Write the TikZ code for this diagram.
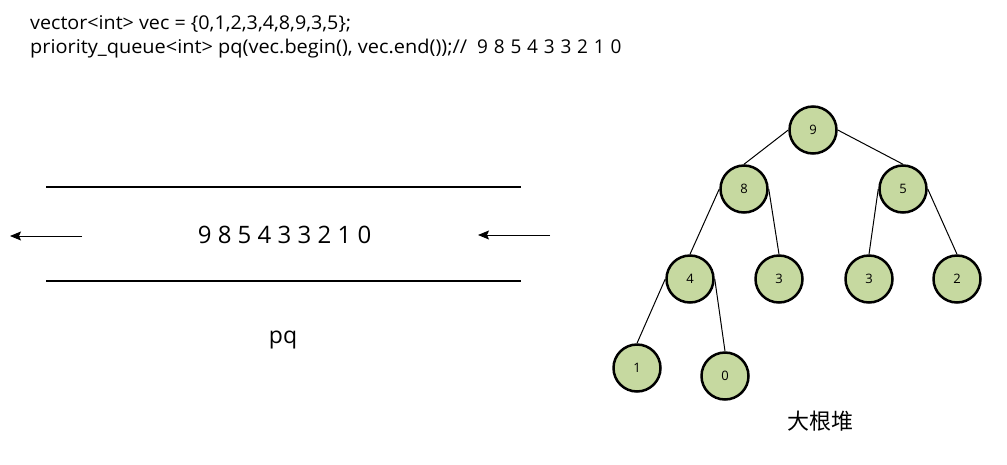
\documentclass[tikz,border=0pt]{standalone}
\usepackage{graphicx}
\usepackage{fontspec}
\setmainfont{Open Sans}
\newfontfamily\cjkfont{Noto Sans CJK SC}
\usetikzlibrary{arrows.meta}
\definecolor{heapgreen}{RGB}{198,217,160}
\tikzset{
  heapnode/.style={circle,draw=black,line width=2.5pt,fill=heapgreen,minimum size=47pt,inner sep=0pt,font=\fontsize{13}{15}\selectfont},
  heapedge/.style={draw=black,line width=1pt},
  queueline/.style={draw=black,line width=2pt},
  flowarrow/.style={draw=black,line width=1pt,-{Stealth[length=11pt,width=9pt,inset=2pt]}},
  codetext/.style={anchor=base west,inner sep=0pt,font=\fontsize{19}{22}\selectfont}
}
\begin{document}
\begin{tikzpicture}[x=1pt,y=-1pt]
\useasboundingbox (0,0) rectangle (1007,464);
% code text
\node[codetext] (code1) at (30,29.5) {\resizebox{321pt}{\height}{vector<int> vec = \{0,1,2,3,4,8,9,3,5\};}};
\node[codetext] (code2) at (30,53.5) {\resizebox{437pt}{\height}{priority\_queue<int> pq(vec.begin(), vec.end());//}};
\node[codetext] (code2b) at (477,53.5) {\spaceskip=5.8pt\relax 9 8 5 4 3 3 2 1 0};
% queue
\coordinate (tl) at (46,187);
\coordinate (tr) at (521,187);
\coordinate (bl) at (46,281);
\coordinate (br) at (521,281);
\draw[queueline] (tl) -- (tr);
\draw[queueline] (bl) -- (br);
\node[inner sep=0pt,font=\fontsize{24}{28}\selectfont] (qtext) at (284.5,235) {9 8 5 4 3 3 2 1 0};
\node[inner sep=0pt,font=\fontsize{23}{26}\selectfont] (pq) at (283,340) {pq};
\coordinate (la) at (82,236);
\coordinate (lb) at (10,236);
\coordinate (ra) at (550,235);
\coordinate (rb) at (478,235);
\draw[flowarrow] (la) -- (lb);
\draw[flowarrow] (ra) -- (rb);
% heap
\node[heapnode] (n9) at (813,130) {9};
\node[heapnode] (n8) at (744,189) {8};
\node[heapnode] (n5) at (903,189) {5};
\node[heapnode] (n4) at (690,279) {4};
\node[heapnode] (n3a) at (779,279) {3};
\node[heapnode] (n3b) at (869,279) {3};
\node[heapnode] (n2) at (957,279) {2};
\node[heapnode] (n1) at (637,368) {1};
\node[heapnode] (n0) at (725,376) {0};
\draw[heapedge] (n9.west) -- (n8.north);
\draw[heapedge] (n9.east) -- (n5.north);
\draw[heapedge] (n8.west) -- (n4.north);
\draw[heapedge] (n8.east) -- (n3a.north);
\draw[heapedge] (n5.west) -- (n3b.north);
\draw[heapedge] (n5.east) -- (n2.north);
\draw[heapedge] (n4.west) -- (n1.north);
\draw[heapedge] (n4.east) -- (n0.north);
\node[inner sep=0pt,font=\cjkfont\fontsize{22}{26}\selectfont] (label) at (820,421) {大根堆};
\end{tikzpicture}
\end{document}
